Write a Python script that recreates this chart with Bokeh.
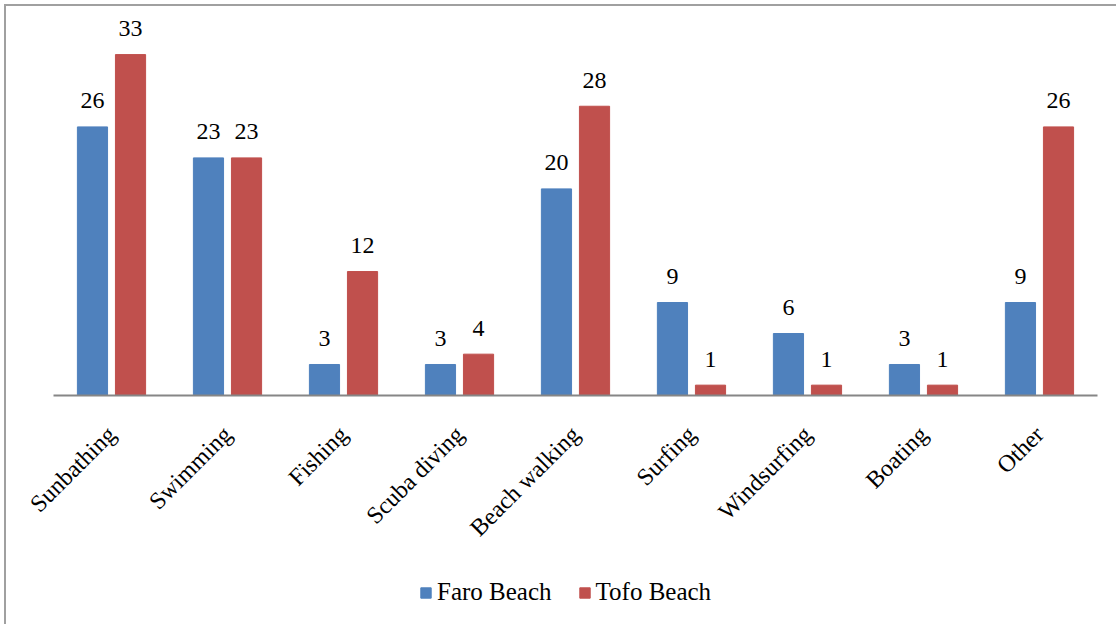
from bokeh.plotting import figure
from bokeh.models import ColumnDataSource, Range1d, Legend, LegendItem, FixedTicker
from bokeh.transform import dodge
from bokeh.core.properties import value
from bokeh.embed import file_html
from bokeh.resources import INLINE
from math import pi

categories = ["Sunbathing", "Swimming", "Fishing", "Scuba diving", "Beach walking",
              "Surfing", "Windsurfing", "Boating", "Other"]
faro = [26, 23, 3, 3, 20, 9, 6, 3, 9]
tofo = [33, 23, 12, 4, 28, 1, 1, 1, 26]
series_names = ["Faro Beach", "Tofo Beach"]

BLUE = "#4F81BD"
RED = "#C0504D"
FONT = "Liberation Serif"

xpos = list(range(len(categories)))
src = ColumnDataSource(dict(x=xpos, cat=categories, faro=faro, tofo=tofo,
                            faro_s=[str(v) for v in faro], tofo_s=[str(v) for v in tofo]))

p = figure(x_range=Range1d(-0.888, len(categories) - 0.336),
           y_range=Range1d(-22.17, 36.3),
           frame_width=1108, frame_height=604, output_backend="svg", toolbar_location=None,
           min_border_left=2, min_border_right=0, min_border_top=14, min_border_bottom=0)
p.styles = {"border-left": "2px solid #a0a0a0", "border-top": "2px solid #a0a0a0",
            "margin-left": "4px", "margin-top": "4px"}

off = 0.164
bw = 0.26
r1 = p.vbar(x=dodge("x", -off), top="faro", width=bw, source=src,
            fill_color=BLUE, line_color=BLUE)
r2 = p.vbar(x=dodge("x", off), top="tofo", width=bw, source=src,
            fill_color=RED, line_color=RED)

for col, o in (("faro_s", -off), ("tofo_s", off)):
    ycol = col[:-2]
    p.text(x=dodge("x", o), y=ycol, text=col, source=src,
           text_align="center", text_baseline="alphabetic", y_offset=-26,
           text_font=value(FONT), text_font_size="24px", text_color="black")

p.xgrid.visible = False
p.ygrid.visible = False
p.yaxis.visible = False
p.outline_line_color = None

ax = p.xaxis[0]
ax.fixed_location = 0
ax.bounds = (-0.5, len(categories) - 0.5)
ax.ticker = FixedTicker(ticks=xpos)
ax.major_label_overrides = {i: c for i, c in zip(xpos, categories)}
ax.major_label_orientation = pi / 4
ax.major_label_text_font = FONT
ax.major_label_text_font_size = "24px"
ax.major_label_text_color = "black"
ax.major_label_standoff = 29
ax.major_tick_line_color = None
ax.minor_tick_line_color = None
ax.axis_line_color = "#868686"
ax.axis_line_width = 2

legend = Legend(items=[LegendItem(label=series_names[0], renderers=[r1]),
                       LegendItem(label=series_names[1], renderers=[r2])],
                orientation="horizontal", location=(411, 18),
                label_text_font=FONT, label_text_font_size="25px", label_text_color="black",
                glyph_width=13, glyph_height=13, label_standoff=5, spacing=26,
                border_line_color=None, background_fill_alpha=0, padding=4, margin=0)
p.add_layout(legend, "center")

open("out.html", "w").write(file_html(p, INLINE))
